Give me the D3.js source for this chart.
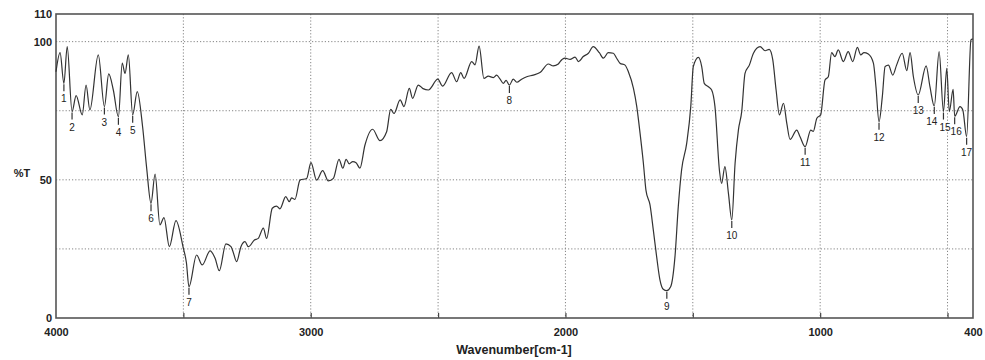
<!DOCTYPE html>
<html>
<head>
<meta charset="utf-8">
<script src="https://cdn.jsdelivr.net/npm/d3@7"></script>
<style>
  body { margin: 0; background: #fff; }
  svg { display: block; }
  text { font-family: "Liberation Sans", Arial, sans-serif; fill: #222; }
</style>
</head>
<body>
<svg id="chart" width="985" height="360"></svg>
<script>
// ---- data ----
const wavenumbers = [4000,3984,3969,3956,3937,3921,3897,3882,3867,3834,3810,3793,3775,3755,3740,3729,3716,3699,3681,3660,3644,3627,3611,3592,3576,3555,3529,3500,3488,3478,3448,3426,3395,3375,3359,3333,3313,3305,3291,3274,3258,3245,3221,3206,3186,3173,3151,3134,3121,3098,3084,3075,3062,3042,3016,2999,2977,2953,2931,2911,2889,2874,2861,2849,2835,2822,2807,2787,2757,2728,2702,2686,2673,2649,2634,2613,2600,2578,2559,2538,2501,2482,2447,2427,2411,2398,2368,2355,2339,2320,2303,2283,2270,2257,2244,2233,2220,2205,2191,2172,2152,2126,2100,2067,2048,2028,2021,2002,1982,1962,1949,1930,1910,1891,1867,1851,1832,1812,1799,1786,1766,1753,1733,1720,1707,1694,1684,1668,1655,1642,1629,1616,1602,1587,1570,1557,1544,1524,1508,1498,1478,1465,1455,1439,1426,1413,1395,1387,1374,1360,1347,1334,1321,1308,1295,1278,1262,1236,1216,1200,1186,1173,1160,1144,1131,1118,1092,1079,1059,1037,1027,1013,998,981,968,955,942,929,909,890,872,854,841,828,811,791,781,769,756,745,732,715,700,678,660,647,634,615,584,569,552,533,516,503,493,478,472,451,440,425,408,401];
const transmittance = [89.1,96,84.9,98.2,74.7,80.5,73.5,84.3,75.3,95.2,76.5,88.3,82.5,72.8,92.2,88.5,95.2,73.5,81.9,69.2,54.2,41.5,52.1,33.7,36.3,25.8,35.2,25.2,20,11.3,22.8,19.2,24.3,21.5,17.1,26.8,25.8,24,20.4,25.8,27.6,25.8,28.2,28.8,32.5,28.8,39.7,40.5,39.5,43.9,42.1,43.5,42.9,49.9,50.5,56.2,49.9,53.3,49.6,50.5,57.4,54.2,57.4,55.8,56.6,56.2,54.2,62.6,68.3,64.2,67.4,75.5,74,78.9,76.5,83.1,79.5,84.3,83,82.5,86.4,83.9,88.8,85.5,88.8,86.7,92.8,91.6,98.4,86.7,87.5,87,87.9,86.5,84.9,86,84.3,86.4,85.3,86.4,87.3,87.9,88.8,91.9,91.2,91.9,92.8,94,93.6,94.4,92.8,94.6,95.8,98.2,96,94,96,95.8,94,92.2,91.5,89.1,83.1,76.5,66.8,56,46.3,40.9,31.8,22.2,13.8,10.4,9.9,11.3,22.2,40.3,53.6,63.2,76.5,91,94.3,91,84.9,83.7,82.5,76.5,53,48.7,54.8,45,35.5,56,68,74.7,88.5,91.5,95.8,98.2,96.7,97.2,93.4,82.5,73.5,77.7,70.4,64.6,68,65.6,62,68,67.5,72.3,73.5,86.1,87.3,96,94.6,97,92.8,96.4,92.8,97.9,95.2,96,95.5,92.2,83.7,71,80.1,91,91.5,87.9,91.5,95.8,89.5,96,87.3,80.7,91.2,83.7,76.7,96.4,74.7,90.3,74.7,82.7,73,76.5,75.3,65.6,100.6,101];
const peakNumbers = [1,2,3,4,5,6,7,8,9,10,11,12,13,14,15,16,17];
const peakWavenumbers = [3969,3937,3810,3755,3699,3627,3478,2220,1602,1347,1059,769,615,552,516,472,425];
const xTickLabels = [4000,3000,2000,1000,400];
const xGridValues = [3500,3000,2500,2000,1500,1000,500];
const yTickLabels = [0,50,100,110];
const yGridValues = [25,50,75,100];

// ---- layout ----
const svg = d3.select("#chart");
const L = 56, R = 973, T = 14, B = 318;
const x = d3.scaleLinear().domain([4000, 400]).range([L, R]);
const y = d3.scaleLinear().domain([0, 110]).range([B, T]);

// gridlines
const grid = svg.append("g");
grid.selectAll("line.gx").data(xGridValues).join("line")
  .attr("x1", d => x(d)).attr("x2", d => x(d))
  .attr("y1", T).attr("y2", B)
  .attr("stroke", "#777").attr("stroke-width", 0.9)
  .attr("stroke-dasharray", "1.2,2");
grid.selectAll("line.gy").data(yGridValues).join("line")
  .attr("x1", L).attr("x2", R)
  .attr("y1", d => y(d)).attr("y2", d => y(d))
  .attr("stroke", "#777").attr("stroke-width", 0.9)
  .attr("stroke-dasharray", "1.2,2");

// inward ticks at bottom
svg.append("g").attr("transform", `translate(0,${B})`)
  .call(d3.axisBottom(x).tickValues(xGridValues).tickSize(-5).tickFormat(""))
  .call(g => g.select(".domain").remove())
  .call(g => g.selectAll("line").attr("stroke", "#444").attr("stroke-width", 1.2));

// frame
svg.append("rect").attr("x", L).attr("y", T).attr("width", R - L).attr("height", B - T)
  .attr("fill", "none").attr("stroke", "#555").attr("stroke-width", 1.6);

// x axis labels
svg.append("g").attr("transform", `translate(0,${B})`)
  .call(d3.axisBottom(x).tickValues(xTickLabels).tickSize(0).tickPadding(10).tickFormat(d3.format("d")))
  .call(g => g.select(".domain").remove())
  .call(g => g.selectAll("text").attr("font-size", 11).attr("fill", "#222")
    .style("font-family", "'Liberation Sans', Arial, sans-serif").style("font-weight", "bold"));

// y axis labels
svg.append("g").attr("transform", `translate(${L},0)`)
  .call(d3.axisLeft(y).tickValues(yTickLabels).tickSize(0).tickPadding(4).tickFormat(d3.format("d")))
  .call(g => g.select(".domain").remove())
  .call(g => g.selectAll("text").attr("font-size", 11).attr("fill", "#222")
    .style("font-family", "'Liberation Sans', Arial, sans-serif").style("font-weight", "bold"));

// axis titles
svg.append("text").attr("x", 22).attr("y", 177).attr("text-anchor", "middle")
  .attr("font-size", 11).attr("font-weight", "bold").text("%T");
svg.append("text").attr("x", 514).attr("y", 354).attr("text-anchor", "middle")
  .attr("font-size", 12.5).attr("font-weight", "bold").text("Wavenumber[cm-1]");

// spectrum
const pts = wavenumbers.map((w, i) => [w, transmittance[i]]);
const line = d3.line().x(d => x(d[0])).y(d => y(d[1])).curve(d3.curveMonotoneX);
svg.append("path").datum(pts).attr("d", line)
  .attr("fill", "none").attr("stroke", "#333").attr("stroke-width", 1.2)
  .attr("stroke-linejoin", "round");

// peak labels (small horizontal nudges for the crowded 14/15/16 group)
const labelNudge = {14: -2.5, 15: 1.5, 16: 1.5};
const peakG = svg.append("g");
peakNumbers.forEach((n, i) => {
  const w = peakWavenumbers[i];
  const idx = d3.minIndex(wavenumbers, v => Math.abs(v - w));
  const px = x(wavenumbers[idx]), py = y(transmittance[idx]);
  peakG.append("line").attr("x1", px).attr("x2", px).attr("y1", py + 1).attr("y2", py + 8)
    .attr("stroke", "#333").attr("stroke-width", 1.2);
  peakG.append("text").attr("x", px + (labelNudge[n] || 0)).attr("y", py + 19).attr("text-anchor", "middle")
    .attr("font-size", 10).attr("fill", "#222").text(n);
});
</script>
</body>
</html>
